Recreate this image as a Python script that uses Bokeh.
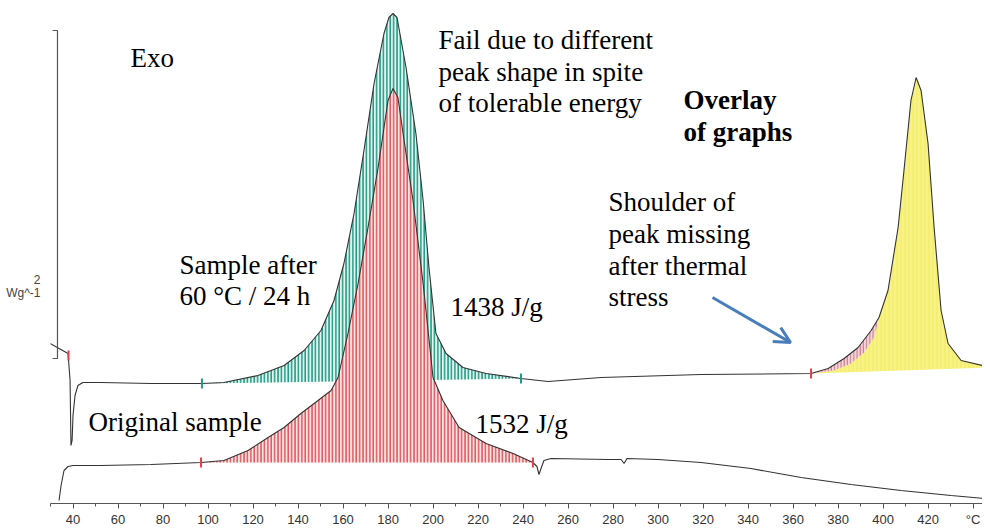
import numpy as np
from bokeh.plotting import figure
from bokeh.models import FixedTicker, Label, Arrow, OpenHead, LinearAxis
from bokeh.embed import file_html
from bokeh.resources import INLINE

# ---- data (temperature in degC, heat flow in W/g, arbitrary offset) ----
after_T = [28.9, 29.8, 33.8, 37.8, 38.7, 39.1, 39.6, 40.0, 40.9, 42.2, 44.4, 52.4, 74.7, 97.3,
           107.1, 122.2, 133.8, 142.7, 150.2, 156.0, 160.4, 164.9, 169.3, 173.8, 178.2, 180.4,
           182.2, 184.0, 188.0, 192.4, 195.6, 198.2, 201.3, 205.8, 213.3, 223.6, 239.1, 251.1,
           274.7, 319.1, 368.0, 375.6, 382.7, 388.9, 394.7, 398.2, 402.2, 406.7, 409.3, 412.4,
           414.7, 416.9, 420.0, 422.7, 425.8, 428.9, 434.7, 448.0]
after_Y = [3.26, 3.20, 3.10, 3.00, 2.46, 1.16, 1.26, 1.76, 2.16, 2.36, 2.42, 2.42, 2.40, 2.40,
           2.42, 2.56, 2.76, 3.06, 3.46, 4.06, 4.80, 5.80, 7.06, 8.40, 9.40, 9.72,
           9.80, 9.72, 8.72, 7.40, 6.06, 4.72, 3.40, 3.00, 2.72, 2.60, 2.50, 2.44,
           2.52, 2.58, 2.60, 2.70, 2.90, 3.12, 3.46, 3.72, 4.26, 5.52, 6.66, 8.06,
           8.52, 8.26, 7.20, 5.52, 3.86, 3.20, 2.86, 2.72]

orig_T = [33.8, 34.7, 36.0, 37.8, 40.0, 52.4, 74.7, 96.9, 107.1, 117.8, 126.7, 133.8, 141.3,
          148.9, 154.7, 157.8, 162.2, 166.7, 171.1, 175.6, 180.0, 182.2, 184.4, 186.7, 191.1,
          195.6, 200.0, 204.4, 211.6, 223.6, 235.6, 244.4, 246.2, 247.1, 248.0, 249.3, 252.4,
          277.8, 283.6, 284.9, 286.2, 300.0, 319.1, 341.3, 363.6, 385.8, 408.0, 430.2, 444.9]
orig_Y = [0.06, 0.36, 0.66, 0.74, 0.76, 0.76, 0.78, 0.82, 0.86, 1.06, 1.32, 1.52, 1.80,
          2.06, 2.26, 2.52, 3.40, 4.40, 5.52, 6.72, 8.06, 8.30, 8.12, 7.40, 6.06,
          4.40, 2.52, 2.06, 1.52, 1.20, 1.00, 0.82, 0.74, 0.58, 0.70, 0.86, 0.90,
          0.88, 0.88, 0.80, 0.90, 0.88, 0.82, 0.70, 0.52, 0.38, 0.26, 0.16, 0.10]

# inner edge of the main (yellow) decomposition peak under the shoulder
edge_T = [368.0, 378.2, 385.8, 391.6, 396.0, 398.2]
edge_Y = [2.60, 2.66, 2.80, 3.02, 3.32, 3.72]

green_limits = [97.3, 239.1]
red_limits = [96.9, 244.4]
overlay_limits = [368.0, 448.0]

x_ticks = list(range(40, 441, 20))
x_minor = list(range(30, 441, 10))
y_scale_ticks = [4.47, 4.21]
y_scale_labels = ["2", "Wg^-1"]

# ---- figure ----
p = figure(frame_width=932, frame_height=495, x_range=(30, 444.2), y_range=(0, 9.9),
           output_backend="svg", toolbar_location=None, y_axis_location=None,
           min_border_left=50, min_border_right=0, min_border_top=8, min_border_bottom=0)
p.grid.visible = False
p.outline_line_color = None
p.background_fill_color = "white"

ax = p.xaxis[0]
ax.ticker = FixedTicker(ticks=x_ticks, minor_ticks=x_minor)
ax.major_label_overrides = {440: "°C"}
ax.axis_line_color = "#555555"
ax.major_tick_line_color = "#555555"
ax.minor_tick_line_color = "#555555"
ax.major_tick_in = 0
ax.major_tick_out = 5
ax.minor_tick_in = 0
ax.minor_tick_out = 3
ax.major_label_text_font = "Liberation Sans"
ax.major_label_text_font_size = "13px"
ax.major_label_text_color = "#333333"
ax.major_label_standoff = 3

# scale label as a left axis without line / ticks
yax = LinearAxis(ticker=FixedTicker(ticks=y_scale_ticks, minor_ticks=[]),
                 major_label_overrides=dict(zip(y_scale_ticks, y_scale_labels)),
                 axis_line_color=None, major_tick_line_color=None, minor_tick_line_color=None,
                 major_label_text_font="Liberation Sans", major_label_text_font_size="12px",
                 major_label_text_color="#444444", major_label_standoff=4)
p.add_layout(yax, "left")

aT = np.array(after_T); aY = np.array(after_Y)
oT = np.array(orig_T); oY = np.array(orig_Y)

# green integration area (sample after storage)
m = (aT >= green_limits[0]) & (aT <= green_limits[1])
p.patch(list(aT[m]), list(aY[m]), fill_color="#e4f4ef", line_color=None,
        hatch_pattern="vertical_line", hatch_color="#1f9c86", hatch_scale=3.4, hatch_weight=1.6)

# red integration area (original sample)
m = (oT >= red_limits[0]) & (oT <= red_limits[1])
p.patch(list(oT[m]), list(oY[m]), fill_color="#fbe3e3", line_color=None,
        hatch_pattern="vertical_line", hatch_color="#e0585c", hatch_scale=3.4, hatch_weight=1.6)

# overlay peak: yellow main part and red shoulder
m = (aT > edge_T[-1]) & (aT <= overlay_limits[1])
yx = edge_T + list(aT[m]); yy = edge_Y + list(aY[m])
p.patch(yx, yy, fill_color="#f5ee6e", line_color=None,
        hatch_pattern="vertical_line", hatch_color="#faf6b8", hatch_scale=4, hatch_weight=0.8)
m = (aT >= overlay_limits[0]) & (aT <= edge_T[-1])
sx = list(aT[m]) + edge_T[::-1]; sy = list(aY[m]) + edge_Y[::-1]
p.patch(sx, sy, fill_color="#f4d6da", line_color=None,
        hatch_pattern="vertical_line", hatch_color="#c9707c", hatch_scale=3.2, hatch_weight=1.0)

# curves
p.line(after_T, after_Y, line_color="#333333", line_width=1.1)
p.line(orig_T, orig_Y, line_color="#333333", line_width=1.1)

# integration limit markers
p.scatter([green_limits[0], green_limits[1]], [2.40, 2.50], marker="dash", angle=np.pi / 2,
          size=10, line_color="#1f9c86", line_width=2)
p.scatter([red_limits[0], red_limits[1], overlay_limits[0], 38.0], [0.82, 0.82, 2.60, 2.96],
          marker="dash", angle=np.pi / 2, size=10, line_color="#e0404a", line_width=2)

# scale bar
p.multi_line([[30.9, 33.1, 33.1, 30.9]], [[9.46, 9.46, 2.90, 2.90]], line_color="#555555", line_width=1.2)

serif = "Liberation Serif"
def lab(x, y, t, bold=False):
    p.add_layout(Label(x=x, y=y, text=t, text_font=serif, text_font_size="27px",
                       text_color="black", text_baseline="alphabetic",
                       text_font_style="bold" if bold else "normal"))

lab(65.6, 8.92, "Exo")
lab(202.4, 9.28, "Fail due to different")
lab(202.4, 8.64, "peak shape in spite")
lab(202.4, 8.02, "of tolerable energy")
lab(311.3, 8.08, "Overlay", True)
lab(311.3, 7.44, "of graphs", True)
lab(278.0, 6.04, "Shoulder of")
lab(278.0, 5.40, "peak missing")
lab(278.0, 4.76, "after thermal")
lab(278.0, 4.14, "stress")
lab(87.3, 4.78, "Sample after")
lab(87.3, 4.16, "60 °C / 24 h")
lab(207.8, 3.94, "1438 J/g")
lab(46.9, 1.64, "Original sample")
lab(218.9, 1.60, "1532 J/g")

p.add_layout(Arrow(x_start=324.2, y_start=4.12, x_end=358.9, y_end=3.22,
                   line_color="#4a7ebb", line_width=3,
                   end=OpenHead(size=16, line_color="#4a7ebb", line_width=3)))

open("out.html", "w").write(file_html(p, INLINE))
